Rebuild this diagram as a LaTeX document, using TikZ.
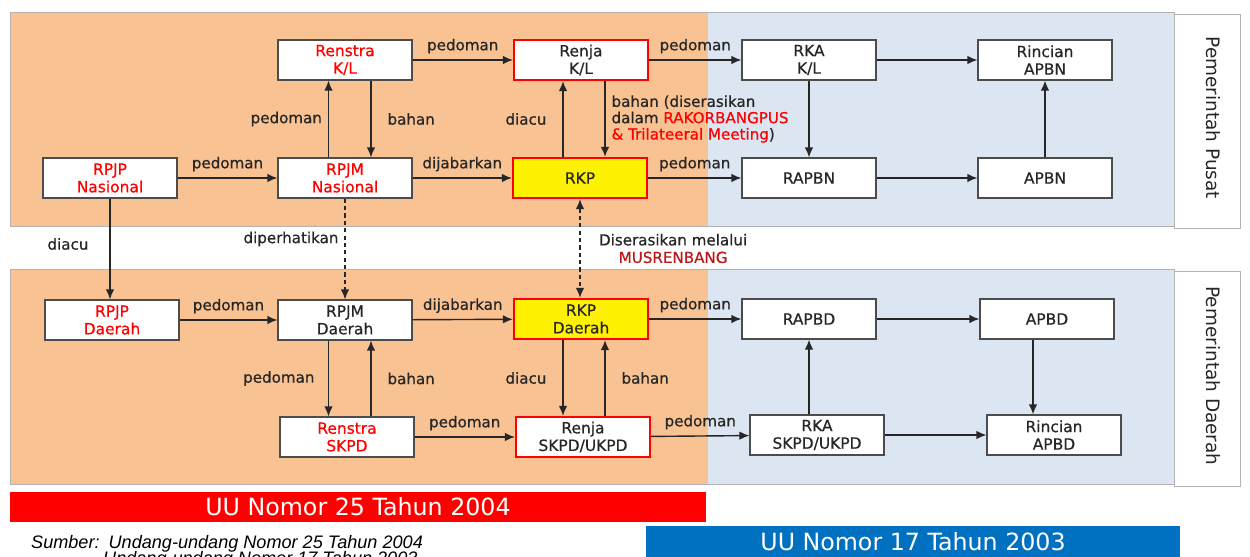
\documentclass[tikz,border=0pt]{standalone}
\usepackage{fontspec}
\setmainfont{DejaVu Sans}
\newfontfamily\semibf[FakeBold=0.6]{DejaVu Sans}
\newfontfamily\srcfont{Liberation Sans}
\usepackage{xcolor}
\usetikzlibrary{arrows.meta, positioning}

\definecolor{panelorange}{RGB}{249,194,146}
\definecolor{panelblue}{RGB}{220,230,242}
\definecolor{barblue}{RGB}{0,112,192}
\definecolor{musred}{RGB}{185,25,25}

\begin{document}
\begin{tikzpicture}[x=0.02cm, y=-0.02cm,
    >={Latex[length=2mm, width=1.7mm]},
    box/.style={draw=black!70, line width=0.7pt, fill=white, minimum width=2.68cm,
        minimum height=0.8cm, align=center, inner sep=1pt, text=black!85,
        font=\semibf\fontsize{8.8}{10}\selectfont},
    redtxt/.style={box, text=red},
    keybox/.style={box, draw=red, line width=1.3pt},
    lbl/.style={font=\semibf\fontsize{8.6}{10}\selectfont, text=black!85},
    arr/.style={->, line width=0.8pt, black!85},
    dotline/.style={dash pattern=on 2.4pt off 1.8pt},
    side/.style={rotate=-90, font=\fontsize{10.5}{12}\selectfont, text=black!85}]
    \useasboundingbox (0,0) rectangle (1250,557);
    \clip (0,0) rectangle (1250,557);

    % panels
    \fill[panelorange] (10,12) rectangle (708,226);
    \fill[panelblue] (708,12) rectangle (1174,226);
    \draw[black!30] (10,12) rectangle (1174,226);
    \draw[black!30, fill=white] (1174,14) rectangle (1240,228);
    \fill[panelorange] (10,269) rectangle (708,484);
    \fill[panelblue] (708,269) rectangle (1174,484);
    \draw[black!30] (10,269) rectangle (1174,484);
    \draw[black!30, fill=white] (1174,271) rectangle (1240,486);

    \node[side] (pusat) at (1213,118) {Pemerintah Pusat};
    \node[side] (daerah) at (1213,376) {Pemerintah Daerah};

    % pusat
    \node[redtxt] (rpjpn) at (110,178) {RPJP\\Nasional};
    \node[redtxt] (rpjmn) at (345,178) {RPJM\\Nasional};
    \node[redtxt] (renstrakl) at (345,60) {Renstra\\K/L};
    \node[keybox] (renjakl) at (581,60) {Renja\\K/L};
    \node[keybox, fill=yellow] (rkp) at (580,178) {RKP};
    \node[box] (rkakl) at (809,60) {RKA\\K/L};
    \node[box] (rincianapbn) at (1045,60) {Rincian\\APBN};
    \node[box] (rapbn) at (809,178) {RAPBN};
    \node[box] (apbn) at (1045,178) {APBN};

    % daerah
    \node[redtxt] (rpjpd) at (112,320) {RPJP\\Daerah};
    \node[box] (rpjmd) at (345,320) {RPJM\\Daerah};
    \node[redtxt] (renstraskpd) at (347,437) {Renstra\\SKPD};
    \node[keybox, fill=yellow] (rkpd) at (581,319) {RKP\\Daerah};
    \node[keybox] (renjaskpd) at (583,437) {Renja\\SKPD/UKPD};
    \node[box] (rapbd) at (809,319) {RAPBD};
    \node[box] (apbd) at (1047,319) {APBD};
    \node[box] (rkaskpd) at (817,435) {RKA\\SKPD/UKPD};
    \node[box] (rincianapbd) at (1054,435) {Rincian\\APBD};

    \draw[arr] (rpjpn) -- (rpjmn) node[lbl, midway, above] {pedoman};
    \draw[arr] ([xshift=-0.33cm]rpjmn.north) -- ([xshift=-0.33cm]renstrakl.south)
        node[lbl, midway, left] {pedoman};
    \draw[arr] ([xshift=0.52cm]renstrakl.south) -- ([xshift=0.52cm]rpjmn.north)
        node[lbl, midway, right, xshift=0.2cm] {bahan};
    \draw[arr] (renstrakl) -- (renjakl) node[lbl, midway, above] {pedoman};
    \draw[arr] (rpjmn) -- (rkp) node[lbl, midway, above] {dijabarkan};
    \draw[arr] ([xshift=-0.34cm]rkp.north) -- ([xshift=-0.34cm]rkp.north |- renjakl.south)
        node[lbl, midway, left, xshift=-0.2cm] {diacu};
    \draw[arr] ([xshift=0.5cm]rkp.north |- renjakl.south) -- ([xshift=0.5cm]rkp.north)
        node[lbl, midway, right, align=left, font=\semibf\fontsize{8.6}{9.3}\selectfont]
        {bahan (diserasikan\\dalam \textcolor{red}{RAKORBANGPUS}\\\textcolor{red}{\& Trilateeral Meeting})};
    \draw[arr] (renjakl) -- (rkakl) node[lbl, midway, above] {pedoman};
    \draw[arr] (rkp) -- (rapbn) node[lbl, midway, above] {pedoman};
    \draw[arr] (rkakl) -- (rincianapbn);
    \draw[arr] (rkakl) -- (rapbn);
    \draw[arr] (rapbn) -- (apbn);
    \draw[arr] (apbn) -- (rincianapbn);

    % antara pusat dan daerah
    \draw[arr] (rpjpn.south) -- (rpjpn.south |- rpjpd.north)
        node[lbl, pos=0.45, left, xshift=-0.3cm] {diacu};
    \draw[arr, dotline] (rpjmn) -- (rpjmd) node[lbl, pos=0.4, left] {diperhatikan};
    \draw[<->, line width=0.8pt, black!85, dotline] (rkp) -- (rkp |- rkpd.north)
        node[lbl, pos=0.5, right, align=center, xshift=0.25cm]
        {Diserasikan melalui\\\textcolor{musred}{MUSRENBANG}};

    \draw[arr] (rpjpd) -- (rpjmd) node[lbl, midway, above] {pedoman};
    \draw[arr] (rpjmd) -- (rkpd) node[lbl, midway, above] {dijabarkan};
    \draw[arr] (rkpd) -- (rapbd) node[lbl, midway, above] {pedoman};
    \draw[arr] ([xshift=-0.33cm]rpjmd.south) -- ([xshift=-0.33cm]rpjmd.south |- renstraskpd.north)
        node[lbl, midway, left, xshift=-0.15cm] {pedoman};
    \draw[arr] ([xshift=0.52cm]rpjmd.south |- renstraskpd.north) -- ([xshift=0.52cm]rpjmd.south)
        node[lbl, midway, right, xshift=0.2cm] {bahan};
    \draw[arr] ([xshift=-0.36cm]rkpd.south) -- ([xshift=-0.36cm]rkpd.south |- renjaskpd.north)
        node[lbl, midway, left, xshift=-0.2cm] {diacu};
    \draw[arr] ([xshift=0.48cm]rkpd.south |- renjaskpd.north) -- ([xshift=0.48cm]rkpd.south)
        node[lbl, midway, right, xshift=0.2cm] {bahan};
    \draw[arr] (renstraskpd) -- (renjaskpd) node[lbl, midway, above] {pedoman};
    \draw[arr] (renjaskpd) -- (rkaskpd) node[lbl, midway, above] {pedoman};
    \draw[arr] (rapbd.south |- rkaskpd.north) -- (rapbd.south);
    \draw[arr] (rapbd) -- (apbd);
    \draw[arr] ([xshift=-0.28cm]apbd.south) -- ([xshift=-0.28cm]apbd.south |- rincianapbd.north);
    \draw[arr] (rkaskpd) -- (rincianapbd);

    % undang-undang
    \fill[red] (10,492) rectangle (706,522);
    \node[text=white, font=\fontsize{13.5}{15}\selectfont] (uu25) at (358,507) {UU Nomor 25 Tahun 2004};
    \fill[barblue] (646,526) rectangle (1180,575);
    \node[text=white, font=\fontsize{13.5}{15}\selectfont] (uu17) at (913,542) {UU Nomor 17 Tahun 2003};
    \node[anchor=base west, font=\srcfont\itshape\fontsize{10.3}{11}\selectfont] (sumber) at (25,548)
        {Sumber:\enspace Undang-undang Nomor 25 Tahun 2004};
    \node[anchor=base west, font=\srcfont\itshape\fontsize{10.3}{11}\selectfont] (sumber2) at (97,564)
        {Undang-undang Nomor 17 Tahun 2003};
\end{tikzpicture}
\end{document}
